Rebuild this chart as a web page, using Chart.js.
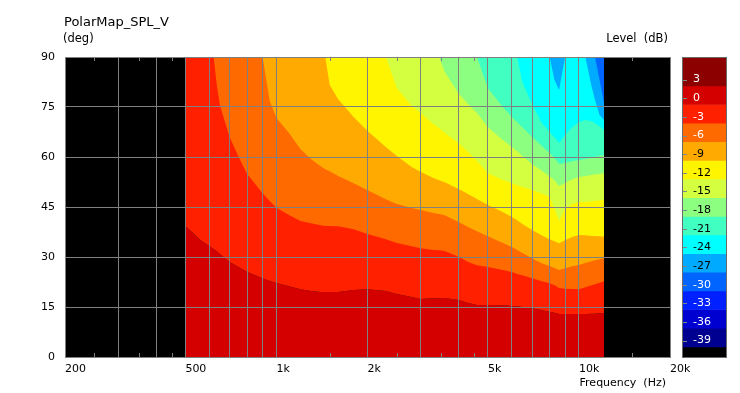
<!DOCTYPE html>
<html>
<head>
<meta charset="utf-8">
<script src="https://cdn.jsdelivr.net/npm/chart.js@4.4.0/dist/chart.umd.min.js"></script>
<style>
  html, body { margin: 0; padding: 0; background: #fff; }
  #marco { position: relative; width: 740px; height: 393px; }
  #mapa { position: absolute; left: 0; top: 0; }
  #barra { position: absolute; left: 682px; top: 57px; }
</style>
</head>
<body>
<div id="marco">
  <canvas id="mapa" width="740" height="393"></canvas>
  <canvas id="barra" width="45" height="301"></canvas>
</div>
<script>
// Frecuencias (Hz) donde se leyeron las fronteras de los contornos
var frecuencias = [500, 530, 560, 600, 620, 635, 650, 700, 750, 800,
                   900, 950, 1000, 1100, 1200, 1300, 1400, 1450, 1500, 1600,
                   1800, 2000, 2300, 2500, 2800, 3000, 3300, 3450, 3600, 4000,
                   4300, 4600, 5000, 5600, 6000, 6250, 6500, 7000, 7500, 8000,
                   8300, 8600, 9000, 9500, 10000, 10500, 11000, 11300, 11700, 12100];

// Ángulo (grados) de cada frontera entre bandas de nivel
var contorno_m1 = [39.3, 37.2, 35.1, 33.3, 32.4, 31.7, 30.9, 28.5, 27.0, 25.5,
                   23.6, 22.8, 22.2, 21.2, 20.3, 19.8, 19.5, 19.5, 19.5, 19.5,
                   20.1, 20.3, 19.8, 18.9, 18.0, 17.4, 17.6, 17.6, 17.7, 17.1,
                   16.2, 15.6, 15.6, 15.5, 15.3, 15.2, 15.0, 14.6, 14.1, 13.6,
                   13.3, 12.9, 12.9, 12.9, 12.9, 12.9, 13.0, 13.0, 13.1, 13.1];
var contorno_m4 = [90, 90, 90, 90, 90, 81.6, 75.6, 66.0, 60.0, 54.9,
                   49.1, 46.8, 44.8, 42.6, 40.8, 40.1, 39.5, 39.3, 39.3, 39.2,
                   38.3, 36.9, 35.3, 34.2, 33.2, 32.6, 32.1, 32.0, 31.8, 30.1,
                   28.5, 27.5, 27.0, 26.1, 25.5, 24.9, 24.5, 23.6, 22.8, 22.1,
                   21.5, 20.7, 20.5, 20.4, 20.3, 20.9, 21.5, 21.8, 22.3, 22.7];
var contorno_m7 = [90, 90, 90, 90, 90, 90, 90, 90, 90, 90,
                   90, 76.8, 71.7, 67.2, 62.4, 59.4, 57.2, 56.3, 55.7, 54.3,
                   52.1, 50.0, 47.3, 45.9, 44.7, 44.1, 43.2, 42.9, 42.5, 40.5,
                   39.0, 37.7, 36.2, 34.2, 33.0, 32.1, 31.2, 29.6, 28.2, 27.3,
                   26.7, 26.1, 26.6, 27.2, 27.6, 28.2, 28.7, 29.0, 29.3, 29.6];
var contorno_m10 = [90, 90, 90, 90, 90, 90, 90, 90, 90, 90,
                    90, 90, 90, 90, 90, 90, 90, 90, 81.6, 77.3,
                    72.0, 67.8, 63.0, 60.3, 57.0, 55.5, 53.7, 53.0, 52.4, 50.4,
                    48.9, 47.4, 45.6, 43.5, 42.0, 41.0, 39.9, 38.1, 36.6, 35.3,
                    34.7, 34.1, 35.0, 36.0, 36.6, 36.5, 36.3, 36.3, 36.2, 36.1];
var contorno_m13 = [90, 90, 90, 90, 90, 90, 90, 90, 90, 90,
                    90, 90, 90, 90, 90, 90, 90, 90, 90, 90,
                    90, 90, 90, 80.7, 75.3, 73.1, 69.9, 68.6, 67.2, 64.1,
                    61.5, 58.8, 55.1, 53.1, 52.1, 51.5, 51.0, 50.1, 49.1, 48.0,
                    44.4, 40.8, 44.4, 45.9, 46.5, 46.5, 46.7, 46.8, 47.0, 47.1];
var contorno_m16 = [90, 90, 90, 90, 90, 90, 90, 90, 90, 90,
                    90, 90, 90, 90, 90, 90, 90, 90, 90, 90,
                    90, 90, 90, 90, 90, 90, 90, 90, 85.5, 79.1,
                    75.9, 73.2, 68.9, 65.1, 63.0, 61.7, 60.3, 57.9, 56.0, 54.2,
                    53.0, 51.3, 52.2, 53.3, 54.0, 54.3, 54.6, 54.8, 54.9, 55.1];
var contorno_m19 = [90, 90, 90, 90, 90, 90, 90, 90, 90, 90,
                    90, 90, 90, 90, 90, 90, 90, 90, 90, 90,
                    90, 90, 90, 90, 90, 90, 90, 90, 90, 90,
                    90, 90, 80.7, 75.0, 72.0, 70.4, 68.9, 66.0, 63.5, 61.2,
                    59.7, 57.9, 58.2, 58.7, 59.1, 59.4, 59.7, 60.0, 60.3, 60.6];
var contorno_m22 = [90, 90, 90, 90, 90, 90, 90, 90, 90, 90,
                    90, 90, 90, 90, 90, 90, 90, 90, 90, 90,
                    90, 90, 90, 90, 90, 90, 90, 90, 90, 90,
                    90, 90, 90, 90, 90, 90, 82.5, 75.9, 70.5, 67.5,
                    65.9, 64.2, 66.6, 69.0, 70.5, 71.1, 70.7, 70.1, 69.2, 68.1];
var contorno_m25 = [90, 90, 90, 90, 90, 90, 90, 90, 90, 90,
                    90, 90, 90, 90, 90, 90, 90, 90, 90, 90,
                    90, 90, 90, 90, 90, 90, 90, 90, 90, 90,
                    90, 90, 90, 90, 90, 90, 90, 90, 90, 90,
                    83.1, 80.1, 90, 90, 90, 90, 81.3, 77.1, 72.6, 71.1];
var contorno_m28 = [90, 90, 90, 90, 90, 90, 90, 90, 90, 90,
                    90, 90, 90, 90, 90, 90, 90, 90, 90, 90,
                    90, 90, 90, 90, 90, 90, 90, 90, 90, 90,
                    90, 90, 90, 90, 90, 90, 90, 90, 90, 90,
                    90, 90, 90, 90, 90, 90, 90, 90, 83.1, 76.2];

var fronteras = [contorno_m1, contorno_m4, contorno_m7, contorno_m10, contorno_m13,
                 contorno_m16, contorno_m19, contorno_m22, contorno_m25, contorno_m28];
// Color de cada banda, de la de mayor nivel (abajo) a la de menor (arriba)
var colores_banda = ['#d40000', '#ff2000', '#ff6a00', '#ffaa00', '#fff500', '#d4ff40',
                     '#8cff80', '#40ffc0', '#00ffff', '#00aaff', '#0064ff'];

// Divisiones y etiquetas del eje de frecuencia
var divisiones_frecuencia = [200, 300, 400, 500, 600, 700, 800, 900, 1000, 2000, 3000,
                             4000, 5000, 6000, 7000, 8000, 9000, 10000, 20000];
var etiquetas_frecuencia = {200: '200', 500: '500', 1000: '1k', 2000: '2k', 5000: '5k', 10000: '10k', 20000: '20k'};
var marcas_menores = [250, 350, 450, 1500, 2500, 3500, 4500, 15000];

// Escala de colores (dB)
var bordes_escala = [6.64, 2, -1, -4, -7, -10, -13, -16, -19, -22, -25, -28, -31, -34, -37, -40, -41.8];
var colores_escala = ['#8c0000', '#d40000', '#ff2000', '#ff6a00', '#ffaa00', '#fff500', '#d4ff40', '#8cff80',
                      '#40ffc0', '#00ffff', '#00aaff', '#0064ff', '#0020ff', '#0000d0', '#000090', '#000000'];
var marcas_escala = [3, 0, -3, -6, -9, -12, -15, -18, -21, -24, -27, -30, -33, -36, -39];

Chart.defaults.font.family = "'DejaVu Sans', Verdana, sans-serif";
Chart.defaults.font.size = 11;
Chart.defaults.color = '#000';

var gris = '#808080';

function serie(angulos) {
    return frecuencias.map(function (f, i) { return {x: f, y: angulos[i]}; });
}

var conjuntos = [];
// banda inferior: por debajo de la primera frontera
conjuntos.push({data: serie(fronteras[0]), fill: 'start', backgroundColor: colores_banda[0], order: 100});
fronteras.forEach(function (angulos, i) {
    conjuntos.push({data: serie(angulos), fill: 'end', backgroundColor: colores_banda[i + 1], order: 99 - i});
});
conjuntos.forEach(function (c) {
    c.borderWidth = 0;
    c.borderColor = 'rgba(0,0,0,0)';
    c.pointRadius = 0;
    c.tension = 0;
});

var fondo_y_textos = {
    id: 'fondo_y_textos',
    beforeDraw: function (chart) {
        var ctx = chart.ctx, a = chart.chartArea;
        ctx.save();
        ctx.fillStyle = '#fff';
        ctx.fillRect(0, 0, chart.width, chart.height);
        ctx.fillStyle = '#000';
        ctx.fillRect(a.left, a.top, a.right - a.left, a.bottom - a.top);
        ctx.restore();
    },
    afterDraw: function (chart) {
        var ctx = chart.ctx, a = chart.chartArea, x = chart.scales.x;
        ctx.save();
        // marcas menores arriba y abajo
        ctx.strokeStyle = gris;
        ctx.lineWidth = 1;
        marcas_menores.forEach(function (f) {
            var px = Math.round(x.getPixelForValue(f)) + 0.5;
            ctx.beginPath();
            ctx.moveTo(px, a.top);
            ctx.lineTo(px, a.top + 4);
            ctx.moveTo(px, a.bottom);
            ctx.lineTo(px, a.bottom - 4);
            ctx.stroke();
        });
        ctx.fillStyle = '#000';
        ctx.textBaseline = 'alphabetic';
        ctx.textAlign = 'left';
        ctx.font = "13px 'DejaVu Sans'";
        ctx.fillText('PolarMap_SPL_V', 64, 26);
        ctx.font = "11.5px 'DejaVu Sans'";
        ctx.fillText('(deg)', 63, 42);
        ctx.textAlign = 'right';
        ctx.fillText('Level  (dB)', 668, 42);
        ctx.font = "11px 'DejaVu Sans'";
        ctx.fillText('Frequency  (Hz)', 666, 386);
        ctx.restore();
    }
};

new Chart(document.getElementById('mapa').getContext('2d'), {
    type: 'line',
    data: {datasets: conjuntos},
    options: {
        responsive: false,
        animation: false,
        layout: {padding: {top: 57, right: 70, bottom: 0, left: 0}},
        plugins: {legend: {display: false}, tooltip: {enabled: false}},
        scales: {
            x: {
                type: 'logarithmic',
                min: 200,
                max: 20000,
                grid: {color: gris, lineWidth: 1, drawTicks: false, z: 1},
                border: {color: gris, z: 1},
                afterBuildTicks: function (escala) {
                    escala.ticks = divisiones_frecuencia.map(function (v) { return {value: v}; });
                },
                afterFit: function (escala) { escala.height = 36; },
                ticks: {
                    autoSkip: false,
                    maxRotation: 0,
                    align: 'start',
                    padding: 6,
                    callback: function (valor) { return etiquetas_frecuencia[valor] || ''; }
                }
            },
            y: {
                min: 0,
                max: 90,
                grid: {color: gris, lineWidth: 1, drawTicks: false, z: 1},
                border: {color: gris, z: 1},
                afterFit: function (escala) { escala.width = 65; },
                ticks: {stepSize: 15, padding: 10}
            }
        }
    },
    plugins: [fondo_y_textos]
});

// Barra de colores de nivel
var bandas_escala = colores_escala.map(function (color, i) {
    return {
        data: [[bordes_escala[i + 1], bordes_escala[i]]],
        backgroundColor: color,
        borderWidth: 0,
        barPercentage: 1,
        categoryPercentage: 1,
        grouped: false
    };
});

var marco_escala = {
    id: 'marco_escala',
    afterDraw: function (chart) {
        var ctx = chart.ctx, a = chart.chartArea, y = chart.scales.y;
        ctx.save();
        ctx.strokeStyle = '#6a6a6a';
        ctx.lineWidth = 1;
        ctx.strokeRect(a.left + 0.5, a.top + 0.5, a.right - a.left - 1, a.bottom - a.top - 1);
        ctx.strokeStyle = '#7a8a8a';
        marcas_escala.forEach(function (v) {
            var py = Math.round(y.getPixelForValue(v)) + 0.5;
            ctx.beginPath();
            ctx.moveTo(a.left + 1, py);
            ctx.lineTo(a.left + 5, py);
            ctx.stroke();
        });
        ctx.restore();
    }
};

new Chart(document.getElementById('barra').getContext('2d'), {
    type: 'bar',
    data: {labels: ['nivel'], datasets: bandas_escala},
    options: {
        responsive: false,
        animation: false,
        layout: {padding: 0},
        plugins: {legend: {display: false}, tooltip: {enabled: false}},
        scales: {
            x: {display: false},
            y: {
                min: bordes_escala[bordes_escala.length - 1],
                max: bordes_escala[0],
                position: 'left',
                grid: {display: false, drawTicks: false},
                border: {display: false},
                afterBuildTicks: function (escala) {
                    escala.ticks = marcas_escala.map(function (v) { return {value: v}; });
                },
                afterFit: function (escala) {
                    escala.width = 0;
                    escala.paddingTop = 0;
                    escala.paddingBottom = 0;
                },
                ticks: {
                    mirror: true,
                    padding: 11,
                    z: 1,
                    font: {size: 11},
                    color: function (c) {
                        var v = c.tick.value;
                        return (v >= -6 || v <= -30) ? '#fff' : '#000';
                    }
                }
            }
        }
    },
    plugins: [marco_escala]
});
</script>
</body>
</html>
